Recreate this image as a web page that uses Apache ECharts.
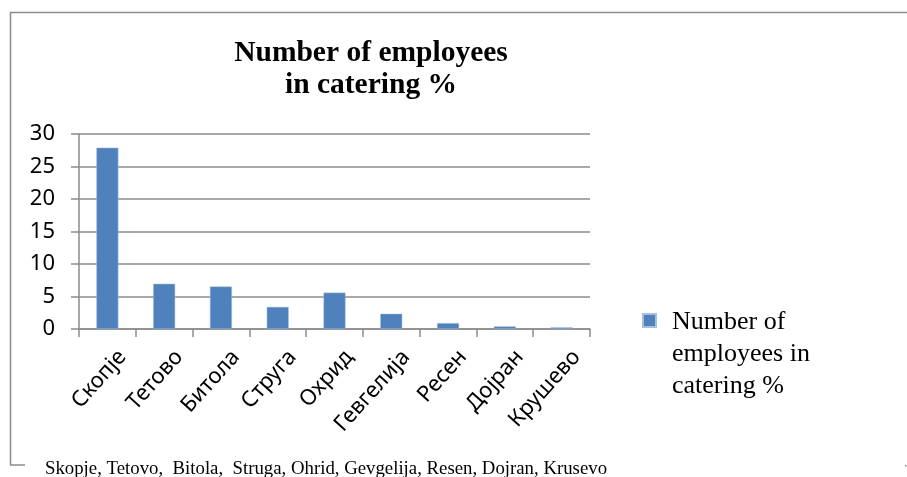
<!DOCTYPE html>
<html>
<head>
<meta charset="utf-8">
<script src="https://cdn.jsdelivr.net/npm/echarts@6/dist/echarts.min.js"></script>
<style>html,body{margin:0;padding:0;background:#fff}#c{width:907px;height:477px}</style>
</head>
<body>
<div id="c"></div>
<script>
var categories = ['Скопје', 'Тетово', 'Битола', 'Струга', 'Охрид', 'Гевгелија', 'Ресен', 'Дојран', 'Крушево'];
var values = [27.9, 6.95, 6.55, 3.4, 5.6, 2.35, 0.9, 0.4, 0.25];
var seriesName = 'Number of employees in catering %';
var legendLines = 'Number of\nemployees in\ncatering %';
var titleText = 'Number of employees\nin catering %';
var footerText = 'Skopje, Tetovo,  Bitola,  Struga, Ohrid, Gevgelija, Resen, Dojran, Krusevo';

var chart = echarts.init(document.getElementById('c'), null, {renderer: 'canvas'});
var frameColor = '#8c8c8c';
chart.setOption({
  animation: false,
  backgroundColor: '#ffffff',
  title: {
    text: titleText,
    left: 366, top: 32, textAlign: 'center',
    textStyle: {fontFamily: 'Liberation Serif', fontWeight: 'bold', fontSize: 29.5, lineHeight: 32, color: '#000'}
  },
  legend: {
    data: [seriesName],
    left: 637, top: 301, orient: 'vertical',
    icon: 'path://M0,0L13,0L13,13L0,13Z M0,80L0.01,80',
    itemWidth: 13, itemHeight: 80, itemGap: 10,
    formatter: function () { return legendLines; },
    textStyle: {fontFamily: 'Liberation Serif', fontSize: 26, lineHeight: 32, color: '#000', padding: [0, 0, 0, 11]}
  },
  grid: {left: 79, right: 317, top: 134, bottom: 148, containLabel: false},
  xAxis: {
    type: 'category', data: categories,
    axisLine: {lineStyle: {color: frameColor, width: 1.5}},
    axisTick: {show: true, length: 8, lineStyle: {color: frameColor, width: 1.5}},
    axisLabel: {rotate: 48, interval: 0, margin: 11, verticalAlign: 'top', lineHeight: 40, fontFamily: 'Noto Sans', fontSize: 22, color: '#000'}
  },
  yAxis: {
    type: 'value', min: 0, max: 30, interval: 5,
    axisLine: {show: true, lineStyle: {color: frameColor, width: 1.5}},
    axisTick: {show: true, length: 8, lineStyle: {color: frameColor, width: 1.5}},
    axisLabel: {margin: 24, fontFamily: 'Noto Sans', fontSize: 22, color: '#000'},
    splitLine: {lineStyle: {color: frameColor, width: 1.5}}
  },
  series: [{
    name: seriesName, type: 'bar', data: values,
    barWidth: 22,
    itemStyle: {color: '#4f81bd', borderColor: '#a7bfde', borderWidth: 0.5}
  }],
  graphic: [
    {type: 'line', shape: {x1: 10, y1: 12.5, x2: 907, y2: 12.5}, style: {stroke: frameColor, lineWidth: 1.5}, silent: true},
    {type: 'line', shape: {x1: 10.5, y1: 12, x2: 10.5, y2: 465}, style: {stroke: frameColor, lineWidth: 1.5}, silent: true},
    {type: 'line', shape: {x1: 10, y1: 465, x2: 25, y2: 465}, style: {stroke: frameColor, lineWidth: 1.5}, silent: true},
    {type: 'rect', shape: {x: 905, y: 465, width: 1.5, height: 1.5}, style: {fill: frameColor}, silent: true},
    {type: 'text', left: 45, top: 460, style: {text: footerText, font: '18.8px "Liberation Serif"', fill: '#000'}, silent: true}
  ]
});
</script>
</body>
</html>
